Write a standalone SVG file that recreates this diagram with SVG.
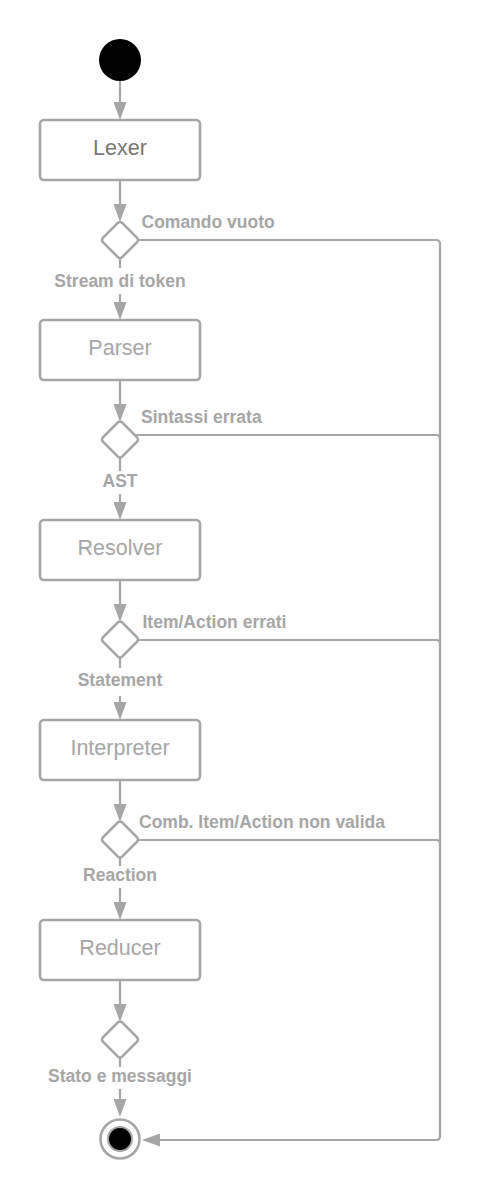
<svg xmlns="http://www.w3.org/2000/svg" width="481" height="1200" viewBox="0 0 481 1200">
<defs>
<style>
.box{fill:#fff;stroke:#a6a6a6;stroke-width:2.6}
.dia{fill:#fff;stroke:#a6a6a6;stroke-width:2.6}
.ln{fill:none;stroke:#a6a6a6;stroke-width:2.2}
.t{font-family:"Liberation Sans",Arial,sans-serif;font-size:21.5px;fill:#a6a6a6;text-anchor:middle}
.lb{font-family:"Liberation Sans",Arial,sans-serif;font-size:17.5px;font-weight:bold;fill:#a6a6a6}
.c{text-anchor:middle}
</style>
<marker id="ah" markerUnits="userSpaceOnUse" markerWidth="18" markerHeight="13" refX="15" refY="6.5" orient="auto" viewBox="0 0 18 13">
<path d="M0,0 L18,6.5 L0,13 Z" fill="#a6a6a6"/>
</marker>
</defs>

<g id="connectors">
<path class="ln" d="M120,81 V117" marker-end="url(#ah)"/>
<path class="ln" d="M120,181 V219" marker-end="url(#ah)"/>
<path class="ln" d="M120,258 V268"/>
<path class="ln" d="M120,294 V317" marker-end="url(#ah)"/>
<path class="ln" d="M120,381 V419" marker-end="url(#ah)"/>
<path class="ln" d="M120,458 V471"/>
<path class="ln" d="M120,494 V517" marker-end="url(#ah)"/>
<path class="ln" d="M120,581 V619" marker-end="url(#ah)"/>
<path class="ln" d="M120,658 V668"/>
<path class="ln" d="M120,696 V717" marker-end="url(#ah)"/>
<path class="ln" d="M120,781 V819" marker-end="url(#ah)"/>
<path class="ln" d="M120,858 V866"/>
<path class="ln" d="M120,888 V917" marker-end="url(#ah)"/>
<path class="ln" d="M120,981 V1019" marker-end="url(#ah)"/>
<path class="ln" d="M120,1058 V1067"/>
<path class="ln" d="M120,1089 V1114" marker-end="url(#ah)"/>
<path class="ln" d="M138,240 H436 Q440,240 440,244 V1136 Q440,1140 436,1140 H145" marker-end="url(#ah)"/>
<path class="ln" d="M136,435 H436 Q440,435 440,439"/>
<path class="ln" d="M138,640 H436 Q440,640 440,644"/>
<path class="ln" d="M138,840 H436 Q440,840 440,844"/>
</g>

<g id="labels">
<text class="lb" x="141.5" y="228">Comando vuoto</text>
<text class="lb c" x="120" y="287">Stream di token</text>
<text class="lb" x="141" y="423">Sintassi errata</text>
<text class="lb c" x="120" y="487">AST</text>
<text class="lb" x="142.5" y="628">Item/Action errati</text>
<text class="lb c" x="120" y="686">Statement</text>
<text class="lb" x="139" y="828">Comb. Item/Action non valida</text>
<text class="lb c" x="120" y="881">Reaction</text>
<text class="lb c" x="120" y="1082">Stato e messaggi</text>
</g>

<g id="start"><circle cx="120" cy="60" r="21" fill="#000"/></g>

<g id="lexer"><rect class="box" x="40" y="120" width="160" height="60" rx="4"/><text class="t" x="120" y="155" style="fill:#767676">Lexer</text></g>
<g id="d1"><rect class="dia" x="-13.6" y="-13.6" width="27.2" height="27.2" rx="3" transform="translate(120,240) rotate(45)"/></g>

<g id="parser"><rect class="box" x="40" y="320" width="160" height="60" rx="4"/><text class="t" x="120" y="355">Parser</text></g>
<g id="d2"><rect class="dia" x="-13.6" y="-13.6" width="27.2" height="27.2" rx="3" transform="translate(120,439.5) rotate(45)"/></g>

<g id="resolver"><rect class="box" x="40" y="520" width="160" height="60" rx="4"/><text class="t" x="120" y="555">Resolver</text></g>
<g id="d3"><rect class="dia" x="-13.6" y="-13.6" width="27.2" height="27.2" rx="3" transform="translate(120,639.5) rotate(45)"/></g>

<g id="interpreter"><rect class="box" x="40" y="720" width="160" height="60" rx="4"/><text class="t" x="120" y="755">Interpreter</text></g>
<g id="d4"><rect class="dia" x="-13.6" y="-13.6" width="27.2" height="27.2" rx="3" transform="translate(120,839.5) rotate(45)"/></g>

<g id="reducer"><rect class="box" x="40" y="920" width="160" height="60" rx="4"/><text class="t" x="120" y="955">Reducer</text></g>
<g id="d5"><rect class="dia" x="-13.6" y="-13.6" width="27.2" height="27.2" rx="3" transform="translate(120,1039.5) rotate(45)"/></g>

<g id="end"><circle cx="120" cy="1139" r="19.5" fill="#fff" stroke="#a6a6a6" stroke-width="2.6"/><circle cx="120" cy="1139" r="12" fill="#000" stroke="#a6a6a6" stroke-width="2"/></g>
</svg>
